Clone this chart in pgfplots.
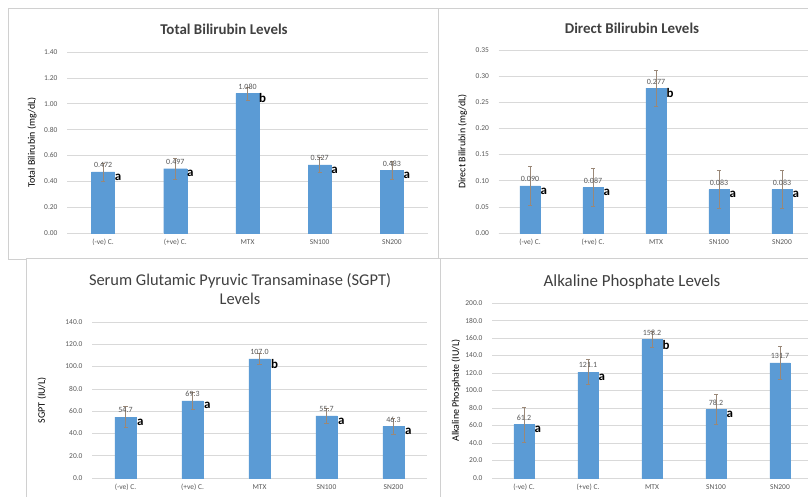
\documentclass[border=0pt]{standalone}
\usepackage{pgfplots}
\pgfplotsset{compat=1.18}
\usepackage{pgfplotstable}
\usepackage{fontspec}
\setmainfont{Carlito}

\definecolor{barblue}{HTML}{5B9BD5}
\definecolor{gridgray}{HTML}{D9D9D9}
\definecolor{ticktext}{HTML}{595959}
\definecolor{errcol}{HTML}{9A8878}
\definecolor{framecol}{HTML}{D0D0D0}
\definecolor{titlecol}{HTML}{404040}

% x = group, y = mean, err = error bar, lab = data label, let = letter
\pgfplotstableread{
x y err lab let
0 0.472 0.07 0.472 a
1 0.497 0.08 0.497 a
2 1.080 0.05 1.080 b
3 0.527 0.06 0.527 a
4 0.483 0.07 0.483 a
}\tbil
\pgfplotstableread{
x y err lab let
0 0.090 0.037 0.090 a
1 0.087 0.036 0.087 a
2 0.277 0.034 0.277 b
3 0.083 0.036 0.083 a
4 0.083 0.036 0.083 a
}\dbil
\pgfplotstableread{
x y err lab let
0 54.7 9.5 54.7 a
1 69.3 8.0 69.3 a
2 107.0 5.0 107.0 b
3 55.7 7.0 55.7 a
4 46.3 7.0 46.3 a
}\sgpt
\pgfplotstableread{
x y err lab let
0 61.2 20.0 61.2 a
1 121.1 14.0 121.1 a
2 158.2 9.0 158.2 b
3 78.2 17.0 78.2 a
4 131.7 19.0 131.7 {}
}\alp

\pgfplotsset{
  panel/.style={
    scale only axis, anchor=south west,
    xmin=-0.5, xmax=4.5, ymin=0,
    xtick={0,...,4},
    xticklabels={(-ve) C.,(+ve) C.,MTX,SN100,SN200},
    axis x line*=bottom, axis y line*=left,
    x axis line style={draw=gridgray, line width=0.6bp, -},
    y axis line style={draw=none},
    major tick length=0pt,
    ymajorgrids, grid style={draw=gridgray, line width=0.5bp},
    tick label style={font=\fontsize{7.5}{8}\selectfont, text=ticktext},
    xticklabel style={yshift=-3bp},
    yticklabel style={xshift=-6bp},
    /pgf/number format/assume math mode=true,
    ylabel style={font=\bfseries\fontsize{9.5}{10}\selectfont, text=ticktext},
    clip=false,
  },
  ylab at/.style={every axis y label/.style={at={(rel axis cs:0,0.5)},
    xshift=#1, rotate=90, anchor=center}},
  bars/.style={
    ybar, bar width=0.32, fill=barblue, draw=barblue,
    nodes near coords, point meta=explicit symbolic,
    every node near coord/.append style={font=\fontsize{8}{9}\selectfont, text=ticktext, yshift=0.5bp},
    error bars/.cd, y dir=both, y explicit,
    error bar style={errcol, line width=0.6bp},
    error mark options={errcol, line width=0.6bp, mark size=2bp, rotate=90},
  },
  letters/.style={
    draw=none, mark=none,
    nodes near coords, point meta=explicit symbolic,
    every node near coord/.append style={font=\bfseries\fontsize{13}{14}\selectfont,
      text=black, anchor=west, xshift=#1, yshift=-5bp, inner sep=0.5bp},
  },
}

\begin{document}
\begin{tikzpicture}
% panel frames
\draw[framecol, fill=white] (8.5bp,238bp) rectangle (440bp,489bp);
\draw[framecol, fill=white] (438.5bp,238bp) rectangle (812bp,489bp);
\draw[framecol, fill=white] (26bp,-2bp) rectangle (440bp,239bp);
\draw[framecol, fill=white] (440bp,-2bp) rectangle (812bp,239bp);

% Total bilirubin
\begin{axis}[panel, at={(67bp,264bp)}, width=361bp, height=181bp,
  ymax=1.4, ytick={0,0.2,...,1.41},
  yticklabel style={/pgf/number format/.cd, fixed, fixed zerofill, precision=2},
  ylabel={Total Bilirubin (mg/dL)}, ylab at=-35bp]
\addplot[bars] table[x=x, y=y, y error=err, meta=lab] {\tbil};
\addplot[letters=11bp] table[x=x, y=y, meta=let] {\tbil};
\end{axis}

% Direct bilirubin
\begin{axis}[panel, at={(498.5bp,264bp)}, width=315bp, height=183bp,
  ymax=0.35, ytick={0,0.05,...,0.351},
  yticklabel style={/pgf/number format/.cd, fixed, fixed zerofill, precision=2},
  ylabel={Direct Bilirubin (mg/dL)}, ylab at=-36bp]
\addplot[bars] table[x=x, y=y, y error=err, meta=lab] {\dbil};
\addplot[letters=10bp] table[x=x, y=y, meta=let] {\dbil};
\end{axis}

% SGPT
\begin{axis}[panel, at={(92bp,19bp)}, width=335bp, height=156bp,
  ymax=140, ytick={0,20,...,140},
  yticklabel style={/pgf/number format/.cd, fixed, fixed zerofill, precision=1},
  ylabel={SGPT (IU/L)}, ylab at=-50bp]
\addplot[bars] table[x=x, y=y, y error=err, meta=lab] {\sgpt};
\addplot[letters=11bp] table[x=x, y=y, meta=let] {\sgpt};
\end{axis}

% Alkaline phosphate
\begin{axis}[panel, at={(492bp,19bp)}, width=320bp, height=175bp,
  ymax=200, ytick={0,20,...,200},
  yticklabel style={/pgf/number format/.cd, fixed, fixed zerofill, precision=1},
  ylabel={Alkaline Phosphate (IU/L)}, ylab at=-36bp]
\addplot[bars] table[x=x, y=y, y error=err, meta=lab] {\alp};
\addplot[letters=10bp] table[x=x, y=y, meta=let] {\alp};
\end{axis}

% titles
\node[font=\bfseries\fontsize{15}{17}\selectfont, text=titlecol] at (224bp,468bp) {Total Bilirubin Levels};
\node[font=\bfseries\fontsize{15}{17}\selectfont, text=titlecol] at (632bp,469bp) {Direct Bilirubin Levels};
\node[font=\fontsize{16.5}{19}\selectfont, text=titlecol, align=center] at (240bp,208bp) {Serum Glutamic Pyruvic Transaminase (SGPT)\\Levels};
\node[font=\fontsize{17}{19}\selectfont, text=titlecol] at (632bp,215bp) {Alkaline Phosphate Levels};

\pgfresetboundingbox
\path[use as bounding box] (0bp,0bp) rectangle (808bp,497bp);
\end{tikzpicture}
\end{document}
